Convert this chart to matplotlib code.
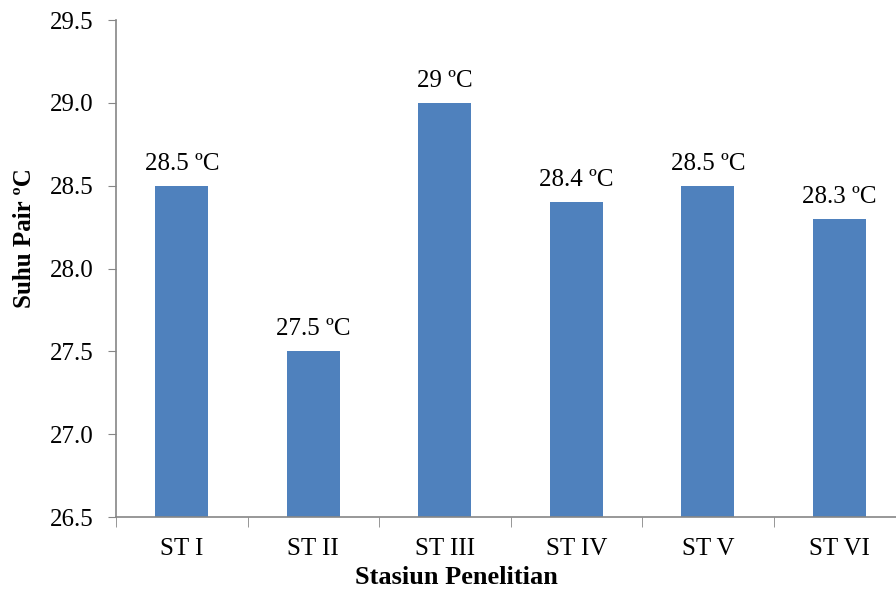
import matplotlib
matplotlib.use("Agg")
import matplotlib.pyplot as plt
import numpy as np

stations = ["ST I", "ST II", "ST III", "ST IV", "ST V", "ST VI"]
suhu = [28.5, 27.5, 29.0, 28.4, 28.5, 28.3]
labels = ["28.5 ºC", "27.5 ºC", "29 ºC", "28.4 ºC", "28.5 ºC", "28.3 ºC"]
yticks = [26.5, 27.0, 27.5, 28.0, 28.5, 29.0, 29.5]

plt.rcParams['font.family'] = ['Liberation Serif', 'DejaVu Serif']

fig = plt.figure(figsize=(8.96, 5.89), dpi=100)
ax = fig.add_axes([0.1295, 0.122, 0.8806, 0.844])

x = np.arange(len(stations))
ax.bar(x, suhu, width=0.4, color='#4F81BD')
for xi, v, t in zip(x, suhu, labels):
    ax.annotate(t, (xi, v), xytext=(0, 8), textcoords='offset points',
                ha='center', va='bottom', fontsize=18)

ax.set_xlim(-0.5, len(stations) - 0.5)
ax.set_ylim(26.5, 29.5)
ax.set_yticks(yticks)
ax.set_yticklabels([f"{v:.1f}" for v in yticks])
ax.set_xticks(x)
ax.set_xticklabels(stations)
ax.set_xticks(np.arange(-0.5, len(stations), 1), minor=True)
ax.tick_params(axis='x', which='major', length=0, labelsize=18, pad=15)
ax.tick_params(axis='x', which='minor', length=7, color='#868686', direction='out')
ax.tick_params(axis='y', length=6, color='#868686', labelsize=18, pad=10)

for s in ['top', 'right']:
    ax.spines[s].set_visible(False)
for s in ['left', 'bottom']:
    ax.spines[s].set_color('#868686')
    ax.spines[s].set_linewidth(1.2)

ax.set_ylabel("Suhu Pair ºC", fontsize=18, fontweight='bold', va='center')
ax.yaxis.set_label_coords((24 - 116) / 789, 0.561)
ax.set_xlabel("Stasiun Penelitian", fontsize=19, fontweight='bold', va='center')
ax.xaxis.set_label_coords(0.431, -0.121)

fig.savefig("out.png", dpi=100)
